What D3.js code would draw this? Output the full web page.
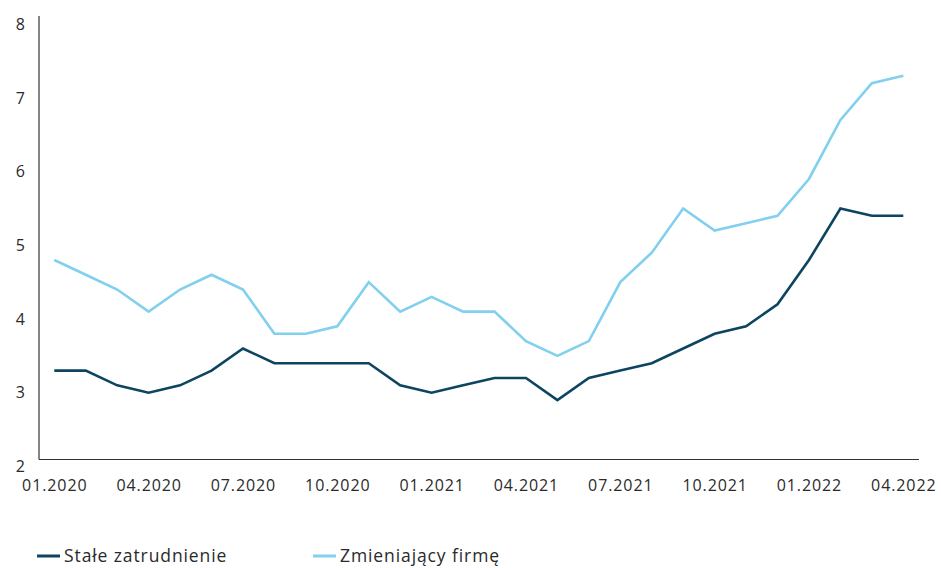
<!DOCTYPE html>
<html><head><meta charset="utf-8">
<script src="https://cdn.jsdelivr.net/npm/d3@7"></script>
<style>
body{margin:0;background:#fff;}
svg{display:block;font-family:"Open Sans","Inter",sans-serif;}
</style></head>
<body><svg id="c" width="941" height="568"></svg>
<script>
const months = ["01.2020","02.2020","03.2020","04.2020","05.2020","06.2020","07.2020","08.2020","09.2020","10.2020","11.2020","12.2020",
"01.2021","02.2021","03.2021","04.2021","05.2021","06.2021","07.2021","08.2021","09.2021","10.2021","11.2021","12.2021",
"01.2022","02.2022","03.2022","04.2022"];
const staleZatrudnienie = [3.3,3.3,3.1,3.0,3.1,3.3,3.6,3.4,3.4,3.4,3.4,3.1,3.0,3.1,3.2,3.2,2.9,3.2,3.3,3.4,3.6,3.8,3.9,4.2,4.8,5.5,5.4,5.4];
const zmieniajacyFirme = [4.8,4.6,4.4,4.1,4.4,4.6,4.4,3.8,3.8,3.9,4.5,4.1,4.3,4.1,4.1,3.7,3.5,3.7,4.5,4.9,5.5,5.2,5.3,5.4,5.9,6.7,7.2,7.3];
const xTickLabels = ["01.2020","04.2020","07.2020","10.2020","01.2021","04.2021","07.2021","10.2021","01.2022","04.2022"];
const yTicks = [2,3,4,5,6,7,8];
const seriesNames = ["Stałe zatrudnienie","Zmieniający firmę"];
const colors = ["#0d4560","#80d0ee"];

const svg = d3.select("#c");
const x = d3.scalePoint().domain(months).range([54.3, 903.3]);
const y = d3.scaleLinear().domain([2,8]).range([466.4, 24.2]);

// axes lines
svg.append("line").attr("x1",39).attr("x2",39).attr("y1",16).attr("y2",459.5)
  .attr("stroke","#333").attr("stroke-width",1.2);
svg.append("line").attr("x1",39).attr("x2",919).attr("y1",459.5).attr("y2",459.5)
  .attr("stroke","#333").attr("stroke-width",1.2);

// y labels
const yAxis = d3.axisLeft(y).tickValues(yTicks).tickFormat(d3.format("d")).tickSize(0).tickPadding(0);
const gy = svg.append("g").attr("transform","translate(25,0)").call(yAxis);
gy.select(".domain").remove();
gy.selectAll("text").attr("font-size",16).attr("fill","#2a2a2a").attr("font-family","'Open Sans',sans-serif");

// x labels
const xAxis = d3.axisBottom(x).tickValues(xTickLabels).tickSize(0).tickPadding(0);
const gx = svg.append("g").attr("transform","translate(0,480)").call(xAxis);
gx.select(".domain").remove();
gx.selectAll("text").attr("font-size",16).attr("letter-spacing","0.9px").attr("fill","#2a2a2a").attr("font-family","'Open Sans',sans-serif");

const line = d3.line().x((d,i)=>x(months[i])).y(d=>y(d));
[staleZatrudnienie, zmieniajacyFirme].forEach((s,k)=>{
  svg.append("path").datum(s).attr("d",line).attr("fill","none")
    .attr("stroke",colors[k]).attr("stroke-width",2.6).attr("stroke-linejoin","miter");
});

// legend
const legX = [37, 313];
seriesNames.forEach((n,k)=>{
  svg.append("line").attr("x1",legX[k]).attr("x2",legX[k]+23).attr("y1",556).attr("y2",556)
    .attr("stroke",colors[k]).attr("stroke-width",3);
  svg.append("text").attr("x",legX[k]+27).attr("y",562).attr("font-size",17.5).attr("letter-spacing","0.9px")
    .attr("fill","#2a2a2a").text(n);
});
</script></body></html>
